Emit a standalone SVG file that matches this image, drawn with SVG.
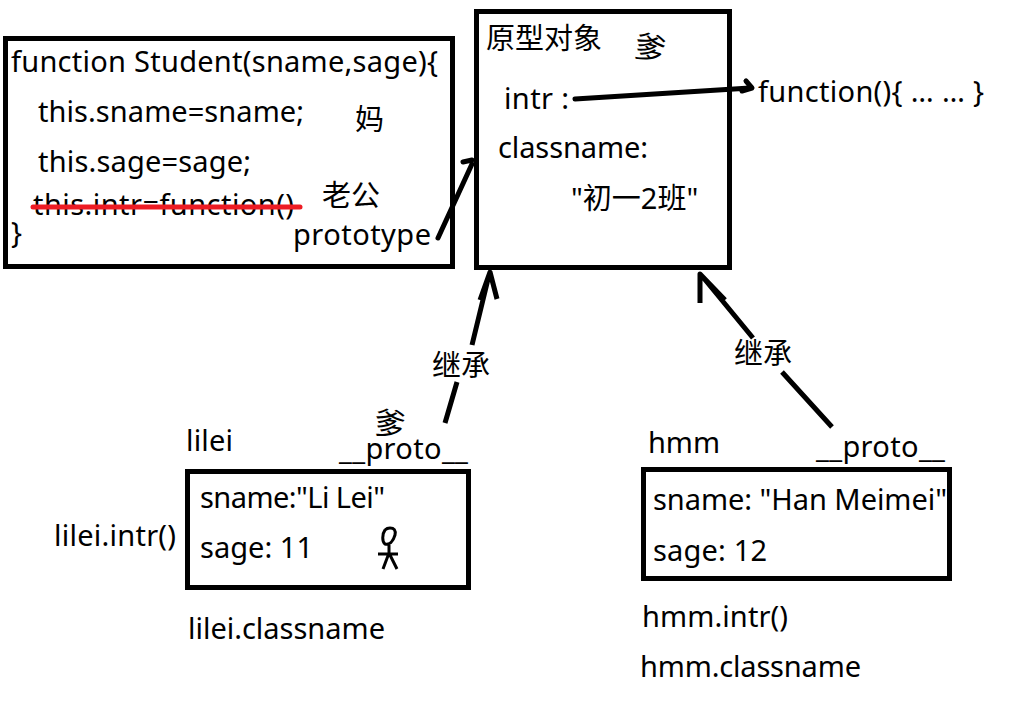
<svg xmlns="http://www.w3.org/2000/svg" width="1018" height="714" viewBox="0 0 1018 714">
<style>
text{font-family:"Noto Sans","Noto Sans CJK SC",sans-serif;font-size:29px;fill:#000}
.box{fill:none;stroke:#000;stroke-width:5}
.ln{fill:none;stroke:#000;stroke-width:5;stroke-linejoin:round}
.thin{fill:none;stroke:#000;stroke-width:3}
</style>
<rect width="1018" height="714" fill="#fff"/>
<g id="student">
<rect class="box" x="5.5" y="38.5" width="447" height="228"/>
<text x="11" y="72" textLength="427">function Student(sname,sage){</text>
<text x="38" y="122" textLength="266">this.sname=sname;</text>
<text x="38" y="172" textLength="213">this.sage=sage;</text>
<text x="33" y="215" textLength="261">this.intr=function()</text>
<path d="M33 207H300" fill="none" stroke="#ed1c24" stroke-width="5" stroke-linecap="round"/>
<text x="11" y="243">}</text>
<text x="355" y="130">妈</text>
<text x="322" y="206">老公</text>
<text x="293" y="244.500" textLength="138">prototype</text>
</g>
<g id="prototype-object">
<rect class="box" x="476.500" y="11.500" width="253" height="256"/>
<text x="486" y="49">原型对象</text>
<text transform="translate(647 59) rotate(14)" text-anchor="middle" style="font-size:31px">爹</text>
<text x="504" y="109" textLength="65">intr :</text>
<text x="498" y="158" textLength="150">classname:</text>
<text x="571" y="209">"初一2班"</text>
</g>
<text id="function-label" x="758" y="102" textLength="226">function(){ … … }</text>
<g id="lilei">
<rect class="box" x="187.500" y="471.500" width="281" height="116"/>
<text x="186" y="451" textLength="47">lilei</text>
<text x="339" y="459" textLength="129">__proto__</text>
<text transform="translate(388 435) rotate(8)" text-anchor="middle" style="font-size:31px">爹</text>
<text x="54" y="546" textLength="122">lilei.intr()</text>
<text x="200" y="508" textLength="185">sname:"Li Lei"</text>
<text x="200" y="558" textLength="113">sage: 11</text>
<text x="188" y="639" textLength="197">lilei.classname</text>
<path class="thin" d="M385 530C382 534 382 542 385 544C389 545 393 542 395 535C396 530 394 528 390 528C388 528 386 529 385 530M389 545V553M378 554H398M389 553L383 569M389 553L397 569"/>
</g>
<g id="hmm">
<rect class="box" x="643.500" y="469.500" width="306" height="109"/>
<text x="648" y="453" textLength="72">hmm</text>
<text x="816" y="457" textLength="129">__proto__</text>
<text x="653" y="510" textLength="294">sname: "Han Meimei"</text>
<text x="653" y="561" textLength="114">sage: 12</text>
<text x="642" y="627" textLength="146">hmm.intr()</text>
<text x="640" y="677" textLength="221">hmm.classname</text>
</g>
<g id="connectors">
<path class="ln" stroke-linecap="round" d="M438 238L472 164M463 162L472 160"/>
<path class="ln" stroke-linecap="round" d="M575 99L750 88M746 81L752 88L742 91"/>
<path class="ln" d="M445 423L457 382M472 345L489 275M480 300L490 272L497 299"/>
<path class="ln" d="M832 427L782 372M753 338L702 276M700 303L700 274L725 300"/>
<text x="432" y="376">继承</text>
<text x="734" y="364">继承</text>
</g>
</svg>
